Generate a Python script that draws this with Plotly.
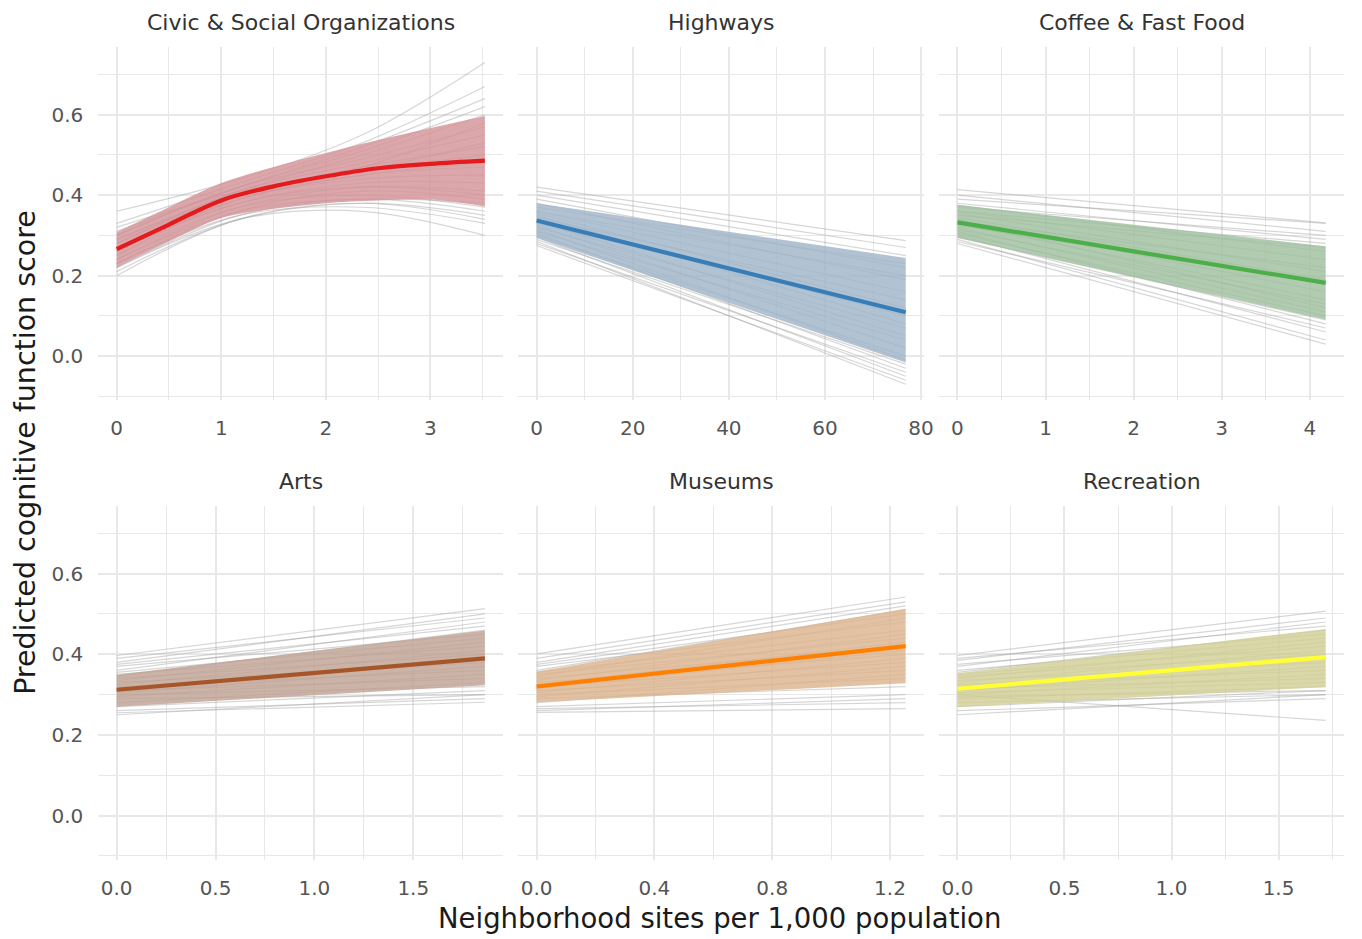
import plotly.graph_objects as go

# ---------------- data ----------------
PANELS = ["Civic & Social Organizations", "Highways", "Coffee & Fast Food",
          "Arts", "Museums", "Recreation"]
LINE_COLORS = ["#e41a1c", "#377eb8", "#4daf4a", "#a65628", "#ff7f00", "#ffff33"]
RIBBON_COLORS = ["rgba(212,148,152,0.82)", "rgba(160,180,200,0.82)", "rgba(160,192,160,0.82)",
                 "rgba(192,162,148,0.82)", "rgba(220,180,142,0.82)", "rgba(210,208,150,0.82)"]

# Civic & Social Organizations (curved)
civic_x = [0, 0.5, 1, 1.5, 2, 2.5, 3, 3.52]
civic_mean = [0.266, 0.327, 0.387, 0.422, 0.447, 0.467, 0.478, 0.486]
civic_upper = [0.308, 0.370, 0.430, 0.470, 0.505, 0.537, 0.567, 0.597]
civic_lower = [0.221, 0.285, 0.343, 0.366, 0.380, 0.387, 0.389, 0.372]
civic_draw_x = [0, 1.17, 2.35, 3.52]
civic_draws = [
    [0.36, 0.44, 0.55, 0.73], [0.33, 0.43, 0.53, 0.67], [0.31, 0.42, 0.52, 0.64],
    [0.30, 0.42, 0.51, 0.62], [0.29, 0.41, 0.50, 0.60], [0.30, 0.42, 0.49, 0.57],
    [0.28, 0.41, 0.48, 0.55], [0.27, 0.40, 0.47, 0.52], [0.28, 0.40, 0.46, 0.50],
    [0.26, 0.39, 0.45, 0.48], [0.25, 0.39, 0.44, 0.45], [0.27, 0.38, 0.43, 0.43],
    [0.24, 0.37, 0.42, 0.41], [0.23, 0.36, 0.41, 0.39], [0.25, 0.37, 0.40, 0.37],
    [0.22, 0.35, 0.39, 0.36], [0.21, 0.34, 0.38, 0.35], [0.23, 0.35, 0.37, 0.33],
    [0.22, 0.34, 0.36, 0.30], [0.26, 0.38, 0.42, 0.40], [0.29, 0.40, 0.46, 0.53],
    [0.24, 0.36, 0.39, 0.38], [0.27, 0.39, 0.45, 0.47], [0.32, 0.41, 0.47, 0.58],
    [0.20, 0.34, 0.38, 0.34],
]

# Linear panels: x range end, mean/ribbon at start & end, draws (start, end)
hw_xmax = 76.8
hw_mean = [0.337, 0.109]
hw_upper = [0.380, 0.244]
hw_lower = [0.294, -0.016]
hw_draws = [(0.42, 0.287), (0.41, 0.27), (0.40, 0.25), (0.39, 0.22), (0.38, 0.19),
            (0.37, 0.23), (0.36, 0.16), (0.355, 0.12), (0.35, 0.08), (0.345, 0.14),
            (0.34, 0.10), (0.335, 0.05), (0.33, 0.11), (0.325, 0.02), (0.32, 0.07),
            (0.315, -0.01), (0.31, 0.04), (0.305, -0.03), (0.30, 0.00), (0.295, -0.05),
            (0.29, -0.02), (0.285, -0.07), (0.28, -0.04), (0.275, -0.06), (0.36, 0.20)]

cf_xmax = 4.18
cf_mean = [0.3325, 0.182]
cf_upper = [0.376, 0.273]
cf_lower = [0.294, 0.091]
cf_draws = [(0.414, 0.331), (0.40, 0.31), (0.39, 0.33), (0.38, 0.29), (0.375, 0.26),
            (0.37, 0.30), (0.36, 0.24), (0.355, 0.21), (0.35, 0.27), (0.345, 0.19),
            (0.34, 0.16), (0.335, 0.22), (0.33, 0.14), (0.325, 0.18), (0.32, 0.11),
            (0.315, 0.13), (0.31, 0.08), (0.305, 0.10), (0.30, 0.06), (0.295, 0.09),
            (0.29, 0.04), (0.285, 0.07), (0.28, 0.03), (0.36, 0.28), (0.34, 0.12)]

arts_xmax = 1.862
arts_mean = [0.312, 0.390]
arts_upper = [0.349, 0.459]
arts_lower = [0.270, 0.323]
arts_draws = [(0.397, 0.513), (0.39, 0.49), (0.38, 0.50), (0.375, 0.47), (0.37, 0.45),
              (0.36, 0.48), (0.355, 0.44), (0.35, 0.42), (0.345, 0.46), (0.34, 0.40),
              (0.335, 0.43), (0.33, 0.38), (0.325, 0.41), (0.32, 0.36), (0.315, 0.39),
              (0.31, 0.34), (0.305, 0.37), (0.30, 0.32), (0.295, 0.35), (0.29, 0.30),
              (0.28, 0.33), (0.27, 0.31), (0.26, 0.29), (0.25, 0.30), (0.255, 0.281)]

mus_xmax = 1.253
mus_mean = [0.320, 0.420]
mus_upper = [0.357, 0.513]
mus_lower = [0.281, 0.328]
mus_draws = [(0.401, 0.542), (0.39, 0.53), (0.38, 0.52), (0.375, 0.50), (0.37, 0.48),
             (0.36, 0.51), (0.355, 0.46), (0.35, 0.44), (0.345, 0.49), (0.34, 0.42),
             (0.335, 0.45), (0.33, 0.40), (0.325, 0.43), (0.32, 0.38), (0.315, 0.41),
             (0.31, 0.36), (0.305, 0.39), (0.30, 0.34), (0.295, 0.37), (0.29, 0.32),
             (0.28, 0.35), (0.27, 0.30), (0.265, 0.28), (0.26, 0.29), (0.256, 0.265)]

rec_xmax = 1.72
rec_mean = [0.3145, 0.393]
rec_upper = [0.353, 0.463]
rec_lower = [0.269, 0.319]
rec_draws = [(0.397, 0.507), (0.39, 0.47), (0.385, 0.49), (0.375, 0.45), (0.37, 0.48),
             (0.36, 0.44), (0.355, 0.46), (0.35, 0.42), (0.345, 0.40), (0.34, 0.43),
             (0.335, 0.38), (0.33, 0.41), (0.325, 0.36), (0.32, 0.39), (0.315, 0.34),
             (0.31, 0.37), (0.305, 0.33), (0.30, 0.35), (0.295, 0.31), (0.29, 0.32),
             (0.28, 0.30), (0.27, 0.31), (0.26, 0.29), (0.25, 0.30), (0.30, 0.236)]

X_RANGES = [[-0.176, 3.696], [-3.84, 80.64], [-0.209, 4.389],
            [-0.093, 1.955], [-0.0627, 1.316], [-0.086, 1.806]]
X_DTICK = [1, 20, 1, 0.5, 0.4, 0.5]
Y_RANGE = [-0.109, 0.769]
Y_TICKS = [0.0, 0.2, 0.4, 0.6]
Y_TICKTEXT = ["0.0", "0.2", "0.4", "0.6"]
X_TICKFMT = ["d", "d", "d", ".1f", ".1f", ".1f"]

# ---------------- figure ----------------
W, H = 1362, 939
FONT = "DejaVu Sans"
fig = go.Figure()

col_px = [(99, 507), (522, 931), (946, 1354)]     # page pixel positions
row_px = [(46.7, 400.0), (505.5, 859.5)]


def px_x(p):
    return p / W


def px_y(p):
    return 1 - p / H


GREY = "rgba(165,165,165,0.45)"


def add_panel(i, xs_mean, mean, upper, lower, draw_x_list, draws, shape="linear"):
    xa = "x" if i == 0 else f"x{i+1}"
    ya = "y" if i == 0 else f"y{i+1}"
    gx, gy = [], []
    for d in draws:
        gx += list(draw_x_list) + [None]
        gy += list(d) + [None]
    fig.add_trace(go.Scatter(x=gx, y=gy, mode="lines", xaxis=xa, yaxis=ya,
                             line=dict(color=GREY, width=1.2, shape=shape),
                             hoverinfo="skip", showlegend=False, connectgaps=False))
    fig.add_trace(go.Scatter(x=xs_mean, y=lower, mode="lines", xaxis=xa, yaxis=ya,
                             line=dict(width=0, shape=shape, color=RIBBON_COLORS[i]),
                             hoverinfo="skip", showlegend=False))
    fig.add_trace(go.Scatter(x=xs_mean, y=upper, mode="lines", xaxis=xa, yaxis=ya,
                             fill="tonexty", fillcolor=RIBBON_COLORS[i],
                             line=dict(width=0, shape=shape, color=RIBBON_COLORS[i]),
                             hoverinfo="skip", showlegend=False))
    fig.add_trace(go.Scatter(x=xs_mean, y=mean, mode="lines", xaxis=xa, yaxis=ya,
                             line=dict(color=LINE_COLORS[i], width=4.2, shape=shape),
                             showlegend=False, name=PANELS[i]))


add_panel(0, civic_x, civic_mean, civic_upper, civic_lower, civic_draw_x, civic_draws, "spline")
for i, (xmax, mean, up, lo, dr) in enumerate([
        (hw_xmax, hw_mean, hw_upper, hw_lower, hw_draws),
        (cf_xmax, cf_mean, cf_upper, cf_lower, cf_draws),
        (arts_xmax, arts_mean, arts_upper, arts_lower, arts_draws),
        (mus_xmax, mus_mean, mus_upper, mus_lower, mus_draws),
        (rec_xmax, rec_mean, rec_upper, rec_lower, rec_draws)], start=1):
    add_panel(i, [0, xmax], mean, up, lo, [0, xmax], dr)

GRID = "#e8e8e8"
TICKFONT = dict(family=FONT, size=20, color="#555555")
layout = dict(width=W, height=H, margin=dict(l=0, r=0, t=0, b=0),
              paper_bgcolor="white", plot_bgcolor="white", showlegend=False)
annotations = []
for i in range(6):
    r, c = divmod(i, 3)
    x0, x1 = col_px[c]
    y0, y1 = row_px[r]
    sfx = "" if i == 0 else str(i + 1)
    layout["xaxis" + sfx] = dict(
        domain=[px_x(x0), px_x(x1)], range=X_RANGES[i], anchor="y" + sfx,
        dtick=X_DTICK[i], tick0=0, tickformat=X_TICKFMT[i],
        showgrid=True, gridcolor=GRID, gridwidth=1.7, zeroline=False,
        showline=False, ticks="", ticklabelstandoff=14, tickfont=TICKFONT,
        minor=dict(dtick=X_DTICK[i] / 2, tick0=0, showgrid=True, gridcolor=GRID, gridwidth=1.4),
    )
    layout["yaxis" + sfx] = dict(
        domain=[px_y(y1), px_y(y0)], range=Y_RANGE, anchor="x" + sfx,
        tickvals=Y_TICKS, ticktext=Y_TICKTEXT, showticklabels=(c == 0),
        showgrid=True, gridcolor=GRID, gridwidth=1.7, zeroline=False,
        showline=False, ticks="", ticklabelstandoff=14, tickfont=TICKFONT,
        minor=dict(tickvals=[-0.1, 0.1, 0.3, 0.5, 0.7], showgrid=True, gridcolor=GRID, gridwidth=1.4),
    )
    annotations.append(dict(text=PANELS[i], x=px_x((x0 + x1) / 2), y=px_y(22 if r == 0 else 481),
                            xref="paper", yref="paper", showarrow=False,
                            xanchor="center", yanchor="middle",
                            font=dict(family=FONT, size=22, color="#333333")))

annotations.append(dict(text="Neighborhood sites per 1,000 population", x=px_x(725), y=px_y(918),
                        xref="paper", yref="paper", showarrow=False, xanchor="center", yanchor="middle",
                        font=dict(family=FONT, size=27.5, color="#1a1a1a")))
annotations.append(dict(text="Predicted cognitive function score", x=px_x(25), y=px_y(452),
                        xref="paper", yref="paper", showarrow=False, xanchor="center", yanchor="middle",
                        textangle=-90, font=dict(family=FONT, size=28.5, color="#1a1a1a")))
layout["annotations"] = annotations
fig.update_layout(**layout)
fig.write_html("out.html", config={"displayModeBar": False},
               post_script="document.body.style.margin='0px';document.body.style.overflow='hidden';")
